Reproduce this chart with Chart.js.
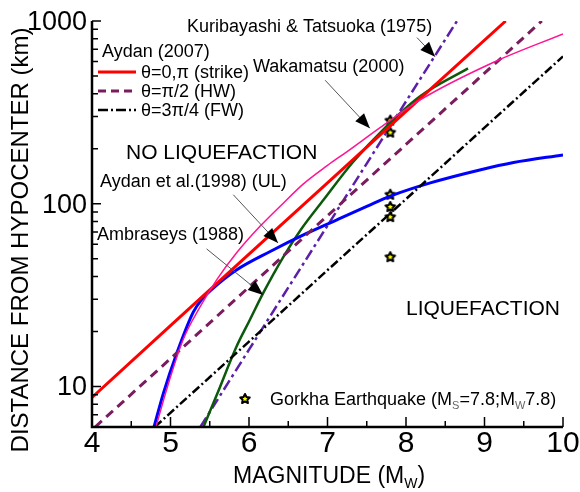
<!DOCTYPE html>
<html>
<head>
<meta charset="utf-8">
<title>Liquefaction distance vs magnitude</title>
<script src="https://cdn.jsdelivr.net/npm/chart.js@4.4.0/dist/chart.umd.min.js"></script>
<style>
  html, body { margin: 0; padding: 0; background: #fff; }
  canvas { display: block; }
</style>
</head>
<body>
<canvas id="chart" width="580" height="492"></canvas>
<script>
// Aydan (2007), strike direction
const strikeMag = [4.0, 5.0, 6.0, 7.0, 8.0, 9.27];
const strikeDist = [8.7, 21.5, 53, 130, 320, 1000];
// Aydan (2007), hanging wall
const hwMag = [4.04, 5.0, 6.0, 7.0, 8.0, 9.0, 9.73];
const hwDist = [6, 14.2, 35, 86, 211, 518, 1000];
// Aydan (2007), foot wall
const fwMag = [4.8, 6.0, 7.0, 8.0, 9.0, 10.0];
const fwDist = [6, 17.6, 43.3, 106, 261, 640];
// Wakamatsu (2000)
const wakaMag = [4.815, 4.95, 5.16, 5.38, 5.59, 5.84, 6.14, 6.44, 6.69, 7.0, 7.25, 7.67, 8.18, 9.11, 10.0];
const wakaDist = [6, 9.6, 18, 27.4, 38.4, 53.7, 75.2, 101, 128, 162, 193, 261, 370, 593, 850];
// Aydan et al. (1998) upper limit
const ulMag = [4.79, 4.91, 5.08, 5.29, 5.4, 5.52, 5.84, 6.27, 6.74, 7.12, 7.5, 7.8, 8.31, 8.94, 9.37, 10.0];
const ulDist = [6, 9.2, 15.2, 25.5, 30, 33.8, 43.4, 54.8, 69, 81.7, 96.6, 110, 130, 153, 168, 185];
// Ambraseys (1988)
const ambMag = [5.42, 5.59, 5.84, 6.01, 6.18, 6.44, 6.66, 6.95, 7.32, 7.75, 8.18, 8.79];
const ambDist = [6, 9.0, 16.5, 23.1, 32.4, 51.4, 72, 105, 168, 265, 387, 550];
// Kuribayashi & Tatsuoka (1975)
const kurMag = [5.38, 6.0, 7.0, 8.0, 8.65];
const kurDist = [6, 15.9, 75.9, 363, 1000];
// Gorkha earthquake observations
const gorkhaMag = [7.8, 7.8, 7.8, 7.8, 7.8, 7.8];
const gorkhaDist = [285, 245, 112, 96, 84.5, 51];

const xTicks = [4, 5, 6, 7, 8, 9, 10];
const xMinor = [4.5, 5.5, 6.5, 7.5, 8.5, 9.5];
const yTicks = [10, 100, 1000];
const yMinor = [6, 7, 8, 9, 20, 30, 40, 50, 60, 70, 80, 90, 200, 300, 400, 500, 600, 700, 800, 900];

const FONT = '"Liberation Sans", Arial, sans-serif';

function pts(xs, ys) {
  return xs.map((x, i) => ({ x: x, y: ys[i] }));
}

// black star with a small yellow core, used for the observation points
function makeStar(r) {
  const c = document.createElement('canvas');
  const s = Math.ceil(r * 2 + 4);
  c.width = s; c.height = s;
  const g = c.getContext('2d');
  g.beginPath();
  for (let i = 0; i < 10; i++) {
    const a = -Math.PI / 2 + i * Math.PI / 5;
    const rr = i % 2 === 0 ? r : r * 0.5;
    const px = s / 2 + rr * Math.cos(a), py = s / 2 + rr * Math.sin(a);
    if (i === 0) g.moveTo(px, py); else g.lineTo(px, py);
  }
  g.closePath();
  g.fillStyle = '#ffff00';
  g.fill();
  g.lineWidth = 2;
  g.lineJoin = 'round';
  g.strokeStyle = '#000';
  g.stroke();
  return c;
}
const starImg = makeStar(5);

function line(label, xs, ys, color, width, dash, curved) {
  return {
    label: label,
    data: pts(xs, ys),
    showLine: true,
    borderColor: color,
    backgroundColor: color,
    borderWidth: width,
    borderDash: dash,
    pointRadius: 0,
    cubicInterpolationMode: curved ? 'monotone' : 'default',
    tension: 0,
    fill: false
  };
}

// annotation arrows: tail and tip given in (Mw, km)
const arrows = [
  { from: [8.14, 811], to: [8.37, 638] },
  { from: [6.97, 474], to: [7.54, 259] },
  { from: [5.80, 112], to: [6.37, 61] },
  { from: [5.46, 56.6], to: [6.18, 31.7] }
];

function drawArrow(ctx, x1, y1, x2, y2) {
  ctx.save();
  ctx.strokeStyle = '#555';
  ctx.lineWidth = 1;
  ctx.beginPath();
  ctx.moveTo(x1, y1);
  ctx.lineTo(x2, y2);
  ctx.stroke();
  const a = Math.atan2(y2 - y1, x2 - x1);
  const len = 15, half = 6;
  const bx = x2 - len * Math.cos(a), by = y2 - len * Math.sin(a);
  ctx.fillStyle = '#000';
  ctx.beginPath();
  ctx.moveTo(x2, y2);
  ctx.lineTo(bx + half * Math.sin(a), by - half * Math.cos(a));
  ctx.lineTo(bx - half * Math.sin(a), by + half * Math.cos(a));
  ctx.closePath();
  ctx.fill();
  ctx.restore();
}

// text runs with optional subscripts
function drawRuns(ctx, runs, x, y, size) {
  let cx = x;
  runs.forEach(r => {
    if (r.sub) {
      ctx.font = Math.round(size * 0.62) + 'px ' + FONT;
      ctx.fillStyle = r.color || '#000';
      ctx.fillText(r.t, cx, y + size * 0.22);
    } else {
      ctx.font = size + 'px ' + FONT;
      ctx.fillStyle = '#000';
      ctx.fillText(r.t, cx, y);
    }
    cx += ctx.measureText(r.t).width;
  });
}

const decorations = {
  id: 'decorations',
  afterDraw(chart) {
    const ctx = chart.ctx;
    const xs = chart.scales.x, ys = chart.scales.y;
    const area = chart.chartArea;
    ctx.save();
    ctx.strokeStyle = '#000';

    // inner ticks
    ctx.lineWidth = 1.5;
    ctx.beginPath();
    xTicks.forEach(v => { const p = xs.getPixelForValue(v); ctx.moveTo(p, area.bottom); ctx.lineTo(p, area.bottom - 10); });
    xMinor.forEach(v => { const p = xs.getPixelForValue(v); ctx.moveTo(p, area.bottom); ctx.lineTo(p, area.bottom - 6); });
    yTicks.forEach(v => { const p = ys.getPixelForValue(v); ctx.moveTo(area.left, p); ctx.lineTo(area.left + 9, p); });
    yMinor.forEach(v => { const p = ys.getPixelForValue(v); ctx.moveTo(area.left, p); ctx.lineTo(area.left + 6, p); });
    ctx.stroke();

    // axis lines
    ctx.lineWidth = 2.5;
    ctx.beginPath();
    ctx.moveTo(area.left, area.top);
    ctx.lineTo(area.left, area.bottom);
    ctx.lineTo(area.right, area.bottom);
    ctx.stroke();

    // tick labels
    ctx.fillStyle = '#000';
    ctx.font = '30px ' + FONT;
    ctx.textAlign = 'center';
    ctx.textBaseline = 'alphabetic';
    xTicks.forEach(v => ctx.fillText(String(v), xs.getPixelForValue(v), area.bottom + 25));
    ctx.font = '27px ' + FONT;
    ctx.textAlign = 'right';
    yTicks.forEach(v => ctx.fillText(String(v), area.left - 5, ys.getPixelForValue(v) + 9));

    // axis titles
    ctx.textAlign = 'center';
    ctx.font = '24px ' + FONT;
    ctx.save();
    ctx.translate(28, 240);
    ctx.rotate(-Math.PI / 2);
    ctx.fillText('DISTANCE FROM HYPOCENTER (km)', 0, 0);
    ctx.restore();
    ctx.textAlign = 'left';
    drawRuns(ctx, [{ t: 'MAGNITUDE (M' }, { t: 'W', sub: true }, { t: ')' }], 233, 483, 23);

    // legend for the Aydan (2007) lines
    ctx.font = '18px ' + FONT;
    ctx.fillText('Aydan (2007)', 102, 57);
    const legend = [
      { y: 72, color: '#ff0000', dash: [], w: 3, t: '\u03b8=0,\u03c0 (strike)' },
      { y: 91, color: '#7a1d5e', dash: [8, 5], w: 3, t: '\u03b8=\u03c0/2 (HW)' },
      { y: 110, color: '#000', dash: [10, 3, 2, 3], w: 2.5, t: '\u03b8=3\u03c0/4 (FW)' }
    ];
    legend.forEach(l => {
      ctx.save();
      ctx.strokeStyle = l.color;
      ctx.lineWidth = l.w;
      ctx.setLineDash(l.dash);
      ctx.beginPath();
      ctx.moveTo(98, l.y);
      ctx.lineTo(136, l.y);
      ctx.stroke();
      ctx.restore();
      ctx.fillStyle = '#000';
      ctx.font = '18px ' + FONT;
      ctx.fillText(l.t, 141, l.y + 6);
    });

    // curve labels and region names
    ctx.font = '18px ' + FONT;
    ctx.fillText('Kuribayashi & Tatsuoka (1975)', 187, 32);
    ctx.fillText('Wakamatsu (2000)', 253, 72);
    ctx.fillText('Aydan et al.(1998) (UL)', 100, 187);
    ctx.fillText('Ambraseys (1988)', 97, 240);
    ctx.font = '21px ' + FONT;
    ctx.fillText('NO LIQUEFACTION', 126, 159);
    ctx.fillText('LIQUEFACTION', 406, 315);

    arrows.forEach(a => drawArrow(ctx,
      xs.getPixelForValue(a.from[0]), ys.getPixelForValue(a.from[1]),
      xs.getPixelForValue(a.to[0]), ys.getPixelForValue(a.to[1])));

    // Gorkha legend entry
    ctx.drawImage(starImg, 245 - starImg.width / 2, 399 - starImg.height / 2);
    drawRuns(ctx, [
      { t: 'Gorkha Earthquake (M' }, { t: 'S', sub: true, color: '#666' },
      { t: '=7.8;M' }, { t: 'W', sub: true, color: '#666' }, { t: '7.8)' }
    ], 270, 405, 18);

    ctx.restore();
  }
};

new Chart(document.getElementById('chart'), {
  type: 'scatter',
  data: {
    datasets: [
      line('Wakamatsu (2000)', wakaMag, wakaDist, '#ff1493', 1.5, [], true),
      line('strike', strikeMag, strikeDist, '#ff0000', 3, [], false),
      line('HW', hwMag, hwDist, '#7a1d5e', 3, [9, 6], false),
      line('FW', fwMag, fwDist, '#000000', 2.5, [9, 3, 2, 3], false),
      line('Aydan et al. (1998) (UL)', ulMag, ulDist, '#0000ff', 3, [], true),
      line('Ambraseys (1988)', ambMag, ambDist, '#0b5a0b', 2.5, [], true),
      line('Kuribayashi & Tatsuoka (1975)', kurMag, kurDist, '#5b1fa8', 2.5, [11, 4, 3, 4], false),
      {
        label: 'Gorkha Earthquake',
        data: pts(gorkhaMag, gorkhaDist),
        pointStyle: starImg,
        pointRadius: 6,
        showLine: false
      }
    ]
  },
  options: {
    responsive: false,
    animation: false,
    layout: { padding: { left: 92, right: 17, top: 21, bottom: 65 } },
    plugins: { legend: { display: false }, tooltip: { enabled: false } },
    scales: {
      x: { type: 'linear', min: 4, max: 10, display: false },
      y: { type: 'logarithmic', min: 6, max: 1000, display: false }
    }
  },
  plugins: [decorations]
});
</script>
</body>
</html>
